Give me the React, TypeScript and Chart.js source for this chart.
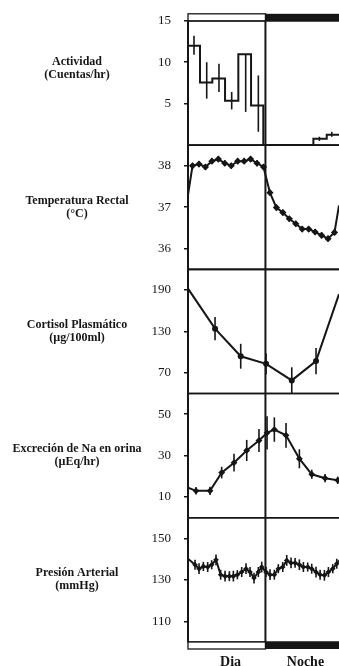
import { useEffect, useRef } from "react";
import { Chart, registerables } from "chart.js";
Chart.register(...registerables);

const INK = "#161616";
const X_MAX = 23.4;
const DAY_END = 12;

// Panel definitions
const panelIds = ["y1", "y2", "y3", "y4", "y5"];
const panelMin = [0, 35.5, 40, 0, 100];
const panelMax = [15, 38.5, 220, 60, 160];
const panelTicks = [
  [5, 10, 15],
  [36, 37, 38],
  [70, 130, 190],
  [10, 30, 50],
  [110, 130, 150],
];
const panelTitles = [
  ["Actividad", "(Cuentas/hr)"],
  ["Temperatura Rectal", "(°C)"],
  ["Cortisol Plasmático", "(µg/100ml)"],
  ["Excreción de Na en orina", "(µEq/hr)"],
  ["Presión Arterial", "(mmHg)"],
];
const titleAnchor = [9.2, 37, 130, 30, 130];
const phaseLabels = ["Dia", "Noche"];
const phaseLabelHour = [6.6, 18.2];

// Activity (2-h bins, stepped)
const actEdges = [0, 1.86, 3.77, 5.74, 7.8, 9.77, 11.67, 19.43, 21.5, 23.4];
const actValues = [12.0, 7.56, 8.04, 5.36, 10.96, 4.76, 0, 0.76, 1.24];
const actErrHour = [0.93, 2.9, 4.8, 6.77, 8.94, 10.9, 20.36, 22.28];
const actErrLow = [10.9, 5.6, 6.4, 4.3, 4.0, 1.6, 0.5, 1.0];
const actErrHigh = [13.2, 10.0, 9.8, 6.4, 11.0, 8.4, 1.0, 1.6];

// Rectal temperature
const tempHours = [0, 0.7, 1.7, 2.7, 3.7, 4.7, 5.7, 6.7, 7.7, 8.7, 9.7, 10.7, 11.7, 12.7, 13.7, 14.7, 15.7, 16.7, 17.7, 18.7, 19.7, 20.7, 21.7, 22.7, 23.4];
const tempValues = [37.3, 38.0, 38.04, 37.97, 38.11, 38.16, 38.06, 38.0, 38.11, 38.11, 38.16, 38.06, 37.97, 37.35, 36.99, 36.87, 36.72, 36.6, 36.47, 36.47, 36.4, 36.32, 36.24, 36.39, 37.04];
const tempErr = [0, 0.07, 0.07, 0.07, 0.07, 0.07, 0.07, 0.07, 0.07, 0.07, 0.07, 0.07, 0.07, 0.07, 0.07, 0.07, 0.07, 0.07, 0.07, 0.07, 0.07, 0.07, 0.07, 0.07, 0];

// Plasma cortisol
const cortHours = [0, 4.19, 8.17, 12.1, 16.08, 19.84, 23.4];
const cortValues = [192, 134, 94, 83, 59, 87, 184];
const cortErr = [0, 17, 18, 15, 19, 19, 0];

// Urinary Na excretion
const naHours = [0, 1.24, 3.41, 5.22, 7.13, 9.1, 11.0, 12.25, 13.38, 15.19, 17.26, 19.18, 21.24, 23.2, 23.4];
const naValues = [14.5, 13.0, 13.0, 21.8, 26.6, 32.5, 37.3, 41.0, 42.6, 39.8, 28.5, 21.0, 19.1, 18.1, 18.0];
const naErr = [0, 1.8, 2.0, 2.8, 4.3, 5.1, 5.6, 8.0, 5.9, 6.0, 4.6, 2.2, 2.0, 1.8, 0];

// Blood pressure
const bpHours = [0, 1.09, 1.71, 2.38, 3.05, 3.67, 4.34, 5.06, 5.74, 6.41, 7.03, 7.65, 8.32, 8.99, 9.61, 10.23, 10.9, 11.42, 12.09, 12.71, 13.38, 14.0, 14.68, 15.3, 15.97, 16.59, 17.26, 17.88, 18.55, 19.17, 19.84, 20.47, 21.14, 21.76, 22.43, 23.05, 23.4];
const bpValues = [140.2, 137.3, 135.4, 136.5, 136.2, 137.3, 139.7, 132.5, 131.8, 131.8, 131.8, 132.5, 133.8, 135.4, 133.8, 130.9, 133.8, 136.2, 133.8, 132.5, 132.5, 135.4, 136.2, 139.4, 138.2, 138.2, 137.3, 136.2, 136.2, 135.4, 133.8, 132.5, 132.2, 133.8, 135.4, 137.8, 139.4];
const bpErr = [0, 2.4, 2.6, 2.2, 2.4, 2.2, 2.6, 2.4, 2.6, 2.4, 2.6, 2.2, 2.4, 2.6, 2.4, 2.6, 2.4, 2.6, 2.4, 2.6, 2.4, 2.2, 2.4, 2.6, 2.6, 2.4, 2.6, 2.4, 2.2, 2.4, 2.6, 2.4, 2.6, 2.4, 2.2, 2.4, 0];

const toPoints = (xs: number[], ys: number[]) => xs.map((x, i) => ({ x, y: ys[i] }));
const markerRadius = (r: number) => (ctx: any) => {
  const h = ctx.raw ? ctx.raw.x : -1;
  return h <= 0 || h >= X_MAX ? 0 : r;
};

const figurePlugin = {
  id: "figure",
  beforeDatasetsDraw(chart: any) {
    const { ctx, chartArea: a, scales } = chart;
    ctx.save();
    ctx.strokeStyle = INK;
    ctx.lineWidth = 1.7;
    panelIds.forEach((id) => {
      const s = scales[id];
      [s.top, s.bottom].forEach((y: number) => {
        ctx.beginPath();
        ctx.moveTo(a.left, y);
        ctx.lineTo(a.right, y);
        ctx.stroke();
      });
    });
    const xd = scales.x.getPixelForValue(DAY_END);
    ctx.lineWidth = 2;
    ctx.beginPath();
    ctx.moveTo(xd, a.top - 7);
    ctx.lineTo(xd, a.bottom + 7);
    ctx.stroke();
    ctx.restore();
  },
  afterDatasetsDraw(chart: any) {
    const { ctx, scales } = chart;
    const x = scales.x;
    ctx.save();
    ctx.strokeStyle = INK;
    ctx.lineWidth = 1.6;
    const bar = (h: number, lo: number, hi: number, ys: any) => {
      const px = x.getPixelForValue(h);
      ctx.beginPath();
      ctx.moveTo(px, ys.getPixelForValue(lo));
      ctx.lineTo(px, ys.getPixelForValue(hi));
      ctx.stroke();
    };
    actErrHour.forEach((h, i) => bar(h, actErrLow[i], actErrHigh[i], scales.y1));
    chart.data.datasets.forEach((ds: any) => {
      if (!ds.errors) return;
      const ys = scales[ds.yAxisID];
      ds.data.forEach((p: any, i: number) => {
        const e = ds.errors[i];
        if (e > 0) bar(p.x, p.y - e, p.y + e, ys);
      });
    });
    ctx.restore();
  },
  afterDraw(chart: any) {
    const { ctx, chartArea: a, scales } = chart;
    const xd = scales.x.getPixelForValue(DAY_END);
    ctx.save();
    const drawBar = (y0: number) => {
      ctx.fillStyle = "#fff";
      ctx.fillRect(a.left, y0, xd - a.left, 7);
      ctx.strokeStyle = INK;
      ctx.lineWidth = 1.3;
      ctx.strokeRect(a.left, y0, xd - a.left, 7);
      ctx.fillStyle = INK;
      ctx.fillRect(xd, y0, a.right - xd, 7);
    };
    drawBar(a.top - 7);
    drawBar(a.bottom);
    ctx.fillStyle = INK;
    ctx.font = 'bold 12px "Liberation Serif"';
    ctx.textAlign = "center";
    ctx.textBaseline = "middle";
    panelIds.forEach((id, i) => {
      const yc = scales[id].getPixelForValue(titleAnchor[i]);
      const lines = panelTitles[i];
      lines.forEach((t, j) => {
        ctx.fillText(t, 77, yc - ((lines.length - 1) * 13) / 2 + j * 13);
      });
    });
    ctx.font = 'bold 14px "Liberation Serif"';
    ctx.textBaseline = "alphabetic";
    phaseLabels.forEach((t, i) => {
      ctx.fillText(t, scales.x.getPixelForValue(phaseLabelHour[i]), a.bottom + 24);
    });
    ctx.restore();
  },
};

export default function App() {
  const ref = useRef<HTMLCanvasElement | null>(null);
  useEffect(() => {
    if (!ref.current) return;
    const scales: any = {
      x: { type: "linear", min: 0, max: X_MAX, display: false },
    };
    panelIds.forEach((id, i) => {
      scales[id] = {
        type: "linear",
        position: "left",
        stack: "panels",
        stackWeight: 1,
        weight: 10 - i,
        min: panelMin[i],
        max: panelMax[i],
        afterBuildTicks: (s: any) => {
          s.ticks = panelTicks[i].map((v) => ({ value: v }));
        },
        afterFit: (s: any) => {
          s.width = 188;
        },
        ticks: {
          font: { family: "Liberation Serif", size: 13 },
          color: INK,
          padding: 13,
          callback: (v: any) => String(v),
        },
        grid: { drawOnChartArea: false, drawTicks: true, tickLength: 4, color: INK, lineWidth: 1.5 },
        border: { display: true, color: INK, width: 2 },
      };
    });
    const actPoints = actValues.map((v, i) => ({ x: actEdges[i], y: v }));
    actPoints.push({ x: actEdges[actEdges.length - 1], y: actValues[actValues.length - 1] });
    const lineBase = { borderColor: INK, borderWidth: 2, fill: false, pointBackgroundColor: INK, pointBorderColor: INK, pointBorderWidth: 0 };
    const chart = new Chart(ref.current, {
      type: "line",
      data: {
        datasets: [
          { ...lineBase, label: "Actividad", yAxisID: "y1", data: actPoints, stepped: true, pointRadius: 0 } as any,
          { ...lineBase, label: "Temperatura", yAxisID: "y2", data: toPoints(tempHours, tempValues), errors: tempErr, pointStyle: "rectRot", pointRadius: markerRadius(3.6) } as any,
          { ...lineBase, label: "Cortisol", yAxisID: "y3", data: toPoints(cortHours, cortValues), errors: cortErr, pointStyle: "circle", pointRadius: markerRadius(3) } as any,
          { ...lineBase, label: "Na", yAxisID: "y4", data: toPoints(naHours, naValues), errors: naErr, pointStyle: "rectRot", pointRadius: markerRadius(3.4) } as any,
          { ...lineBase, label: "Presión", yAxisID: "y5", data: toPoints(bpHours, bpValues), errors: bpErr, pointStyle: "rectRot", pointRadius: markerRadius(2.8) } as any,
        ],
      },
      options: {
        animation: false,
        responsive: false,
        layout: { padding: { top: 17, bottom: 24, left: 0, right: 0 } },
        plugins: { legend: { display: false }, tooltip: { enabled: false } },
        elements: { line: { tension: 0 } },
        scales,
      },
      plugins: [figurePlugin],
    });
    return () => chart.destroy();
  }, []);
  return (
    <div style={{ position: "fixed", left: 0, top: 0, width: 339, height: 666, background: "#fff" }}>
      <canvas ref={ref} width={339} height={666} style={{ display: "block" }} />
    </div>
  );
}
